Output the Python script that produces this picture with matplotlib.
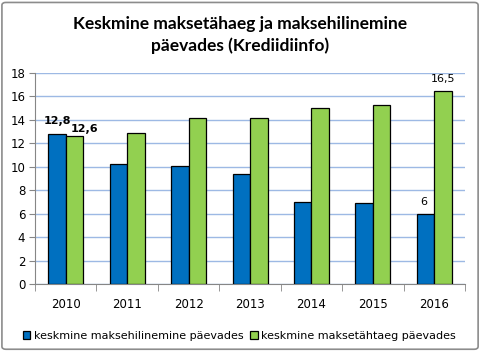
import numpy as np
import matplotlib.pyplot as plt
from matplotlib.patches import FancyBboxPatch

years = ['2010', '2011', '2012', '2013', '2014', '2015', '2016']
hilinemine = [12.8, 10.2, 10.1, 9.4, 7.0, 6.9, 6.0]
tahtaeg = [12.6, 12.9, 14.2, 14.2, 15.0, 15.3, 16.5]
label_names = ['keskmine maksehilinemine päevades', 'keskmine maksetähtaeg päevades']

blue = '#0070C0'
green = '#92D050'

fig = plt.figure(figsize=(4.81, 3.51), dpi=100)
ax = fig.add_axes([0.0728, 0.191, 0.894, 0.601])

# outer chart frame
fig.patches.append(FancyBboxPatch((0.004, 0.005), 0.99, 0.988, boxstyle='round,pad=0,rounding_size=0.008',
                                  transform=fig.transFigure, fill=False, edgecolor='#8c8c8c', lw=1.2))

x = np.arange(len(years))
w = 0.285
ax.bar(x - w / 2, hilinemine, w, color=blue, edgecolor='black', lw=0.9, label=label_names[0], zorder=3)
ax.bar(x + w / 2, tahtaeg, w, color=green, edgecolor='black', lw=0.9, label=label_names[1], zorder=3)

ax.set_xlim(-0.5, len(years) - 0.5)
ax.set_ylim(0, 18)
ax.set_yticks(range(0, 19, 2))
ax.set_xticks(x)
ax.set_xticklabels(years)
ax.set_xticks(np.arange(-0.5, len(years)), minor=True)
ax.tick_params(axis='x', which='major', length=0, pad=10, labelsize=8.5)
ax.tick_params(axis='x', which='minor', length=5, color='#868686', direction='out')
ax.tick_params(axis='y', length=4, color='#868686', labelsize=8.5, pad=3)
ax.grid(axis='y', color='#9DB9E4', lw=1, zorder=0)
for s in ['top', 'right']:
    ax.spines[s].set_visible(False)
for s in ['left', 'bottom']:
    ax.spines[s].set_color('#868686')

# data labels
def lab(xpos, val, dy, bold):
    ax.annotate(str(val).replace('.', ','), (xpos, val), xytext=(0, dy), textcoords='offset points',
                ha='center', va='bottom', fontsize=8, fontweight='bold' if bold else 'normal')

lab(x[0] - w / 2, hilinemine[0], 6, True)
lab(x[0] + w / 2 + 0.17, tahtaeg[0], 1.5, True)
lab(x[6] - w / 2 - 0.03, int(hilinemine[6]), 5, False)
lab(x[6] + w / 2, tahtaeg[6], 5, False)

fig.text(0.5, 0.9, 'Keskmine maksetähaeg ja maksehilinemine\npäevades (Krediidiinfo)',
         ha='center', va='center', fontsize=12.5, fontweight='bold', family='Lato', linespacing=1.45)

ax.legend(loc='center', bbox_to_anchor=(0.475, -0.245), bbox_transform=ax.transAxes, ncol=2, frameon=False,
          fontsize=8, handlelength=0.7, handleheight=0.7, handletextpad=0.3, columnspacing=0.6)

fig.savefig('out.png', dpi=100)
